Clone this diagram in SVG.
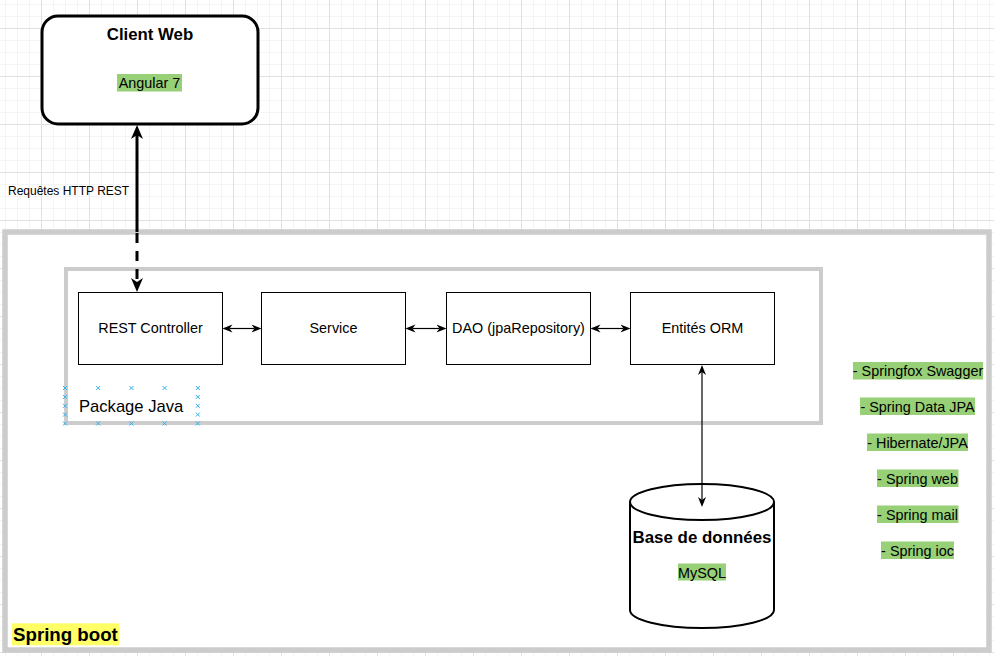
<svg xmlns="http://www.w3.org/2000/svg" width="994" height="656" viewBox="0 0 994 656">
<style>
text{font-family:"Liberation Sans",Arial,Helvetica,sans-serif;fill:#000}
.box{fill:#fff;stroke:#000;stroke-width:1}
.lbl{font-size:14.4px;text-anchor:middle}
.tag{fill:#97D077}
.thin{fill:none;stroke:#000;stroke-width:1.2}
.thick{fill:none;stroke:#000;stroke-width:3}
.xm{fill:none;stroke:#2fb2ee;stroke-width:1}
</style>
<defs>
<pattern id="minor" patternUnits="userSpaceOnUse" x="5" y="4" width="12" height="12">
<rect x="0" y="0" width="12" height="1" fill="#f4f4f4"/>
<rect x="0" y="0" width="1" height="12" fill="#f4f4f4"/>
</pattern>
<pattern id="major" patternUnits="userSpaceOnUse" x="41" y="28" width="48" height="48">
<rect x="0" y="0" width="48" height="1" fill="#e1e1e1"/>
<rect x="0" y="0" width="1" height="48" fill="#e1e1e1"/>
</pattern>
<marker id="ab" markerUnits="userSpaceOnUse" viewBox="0 0 14 14" markerWidth="14" markerHeight="14" refX="4" refY="7" orient="auto-start-reverse">
<path d="M0,1 L14,7 L0,13 L4,7 Z" fill="#000"/>
</marker>
<marker id="as" markerUnits="userSpaceOnUse" viewBox="0 0 10 9" markerWidth="10" markerHeight="9" refX="3" refY="4.5" orient="auto-start-reverse">
<path d="M0,0.5 L10,4.5 L0,8.5 L3,4.5 Z" fill="#000"/>
</marker>
</defs>
<rect width="994" height="656" fill="#fff"/>
<rect width="994" height="656" fill="url(#minor)"/>
<rect width="994" height="656" fill="url(#major)"/>

<g id="spring-boot">
<rect x="5" y="232" width="984" height="418" fill="#fff" stroke="#cccccc" stroke-width="5.5"/>
<rect x="12" y="623.3" width="107.3" height="22" fill="#FFFF66"/>
<text x="13" y="641" font-size="18.7" font-weight="bold">Spring boot</text>
</g>

<g id="package-java">
<rect x="66" y="269" width="755" height="154" fill="#fff" stroke="#cccccc" stroke-width="4"/>
<text x="79" y="412" font-size="16.6">Package Java</text>
<g class="xm">
<path d="M63,386 l4,4 m0,-4 l-4,4 M96.2,386 l4,4 m0,-4 l-4,4 M129.4,386 l4,4 m0,-4 l-4,4 M162.6,386 l4,4 m0,-4 l-4,4 M195.8,386 l4,4 m0,-4 l-4,4"/>
<path d="M63,421.5 l4,4 m0,-4 l-4,4 M96.2,421.5 l4,4 m0,-4 l-4,4 M129.4,421.5 l4,4 m0,-4 l-4,4 M162.6,421.5 l4,4 m0,-4 l-4,4 M195.8,421.5 l4,4 m0,-4 l-4,4"/>
<path d="M63,394.9 l4,4 m0,-4 l-4,4 M63,403.8 l4,4 m0,-4 l-4,4 M63,412.6 l4,4 m0,-4 l-4,4"/>
<path d="M195.8,394.9 l4,4 m0,-4 l-4,4 M195.8,403.8 l4,4 m0,-4 l-4,4 M195.8,412.6 l4,4 m0,-4 l-4,4"/>
</g>
</g>

<g id="client-web">
<rect x="42" y="16" width="216" height="108" rx="16" ry="16" fill="#fff" stroke="#000" stroke-width="3"/>
<text x="150" y="40" font-size="16.8" font-weight="bold" text-anchor="middle">Client Web</text>
<rect x="117" y="74" width="65" height="17.5" class="tag"/>
<text x="149.5" y="88" class="lbl">Angular 7</text>
</g>

<g id="rest-controller">
<rect x="78.5" y="292.5" width="144" height="72" class="box"/>
<text x="150.5" y="333" class="lbl">REST Controller</text>
</g>
<g id="service">
<rect x="261.5" y="292.5" width="144" height="72" class="box"/>
<text x="333.5" y="333" class="lbl">Service</text>
</g>
<g id="dao">
<rect x="446.5" y="292.5" width="144" height="72" class="box"/>
<text x="518.5" y="333" class="lbl">DAO (jpaRepository)</text>
</g>
<g id="entites-orm">
<rect x="630.5" y="292.5" width="144" height="72" class="box"/>
<text x="702.5" y="333" class="lbl">Entités ORM</text>
</g>

<g id="database">
<path d="M630,502 A72,18 0 0 1 774,502 L774,610 A72,18 0 0 1 630,610 Z" fill="#fff" stroke="#000" stroke-width="2"/>
<path d="M630,502 A72,18 0 0 0 774,502" fill="none" stroke="#000" stroke-width="2"/>
<text x="702" y="543" font-size="16.9" font-weight="bold" text-anchor="middle">Base de données</text>
<rect x="678" y="563.5" width="48" height="17" class="tag"/>
<text x="702" y="578" class="lbl">MySQL</text>
</g>

<g id="libraries">
<rect x="853" y="362" width="130" height="17.5" class="tag"/>
<text x="918" y="376" class="lbl">- Springfox Swagger</text>
<rect x="860" y="397.5" width="115" height="17.5" class="tag"/>
<text x="917.5" y="411.5" class="lbl">- Spring Data JPA</text>
<rect x="867" y="433.5" width="101" height="17.5" class="tag"/>
<text x="917.5" y="447.5" class="lbl">- Hibernate/JPA</text>
<rect x="877" y="469.5" width="81.5" height="17.5" class="tag"/>
<text x="917.5" y="483.5" class="lbl">- Spring web</text>
<rect x="877" y="505.5" width="81.5" height="17.5" class="tag"/>
<text x="917.5" y="519.5" class="lbl">- Spring mail</text>
<rect x="881" y="541.5" width="73" height="17.5" class="tag"/>
<text x="917.5" y="555.5" class="lbl">- Spring ioc</text>
</g>

<g id="connectors">
<path d="M137,135 L137,232" class="thick" marker-start="url(#ab)"/>
<path d="M137,233 L137,282" class="thick" stroke-dasharray="10 8" marker-end="url(#ab)"/>
<text x="8" y="195" font-size="12">Requêtes HTTP REST</text>
<path d="M229.5,328.5 L254.5,328.5" class="thin" marker-start="url(#as)" marker-end="url(#as)"/>
<path d="M412.5,328.5 L439.5,328.5" class="thin" marker-start="url(#as)" marker-end="url(#as)"/>
<path d="M597.5,328.5 L623.5,328.5" class="thin" marker-start="url(#as)" marker-end="url(#as)"/>
<path d="M702,372 L702,500" class="thin" marker-start="url(#as)" marker-end="url(#as)"/>
</g>
</svg>
